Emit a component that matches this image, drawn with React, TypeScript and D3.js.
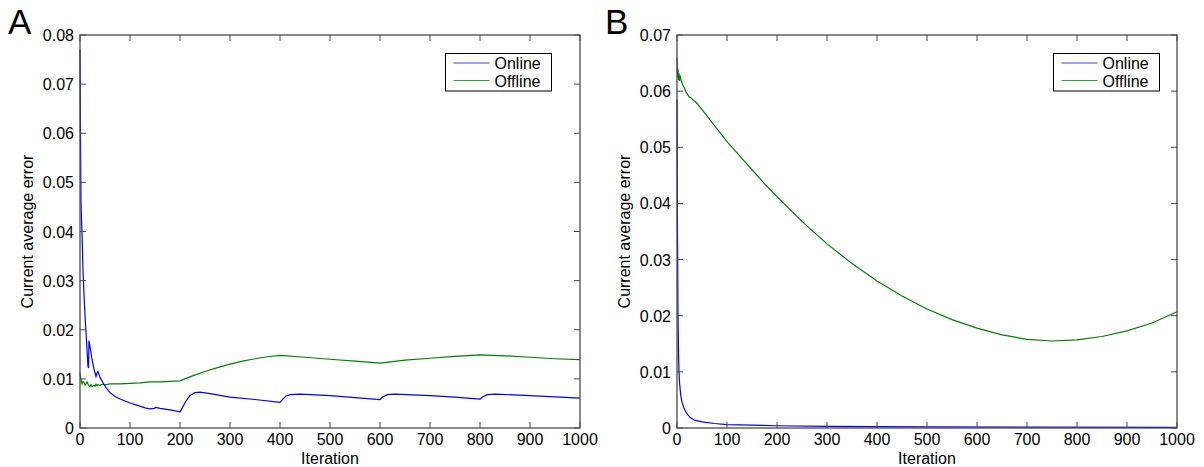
import React from "react";
import * as d3 from "d3";

// ---------- DATA ----------
const xTicks = [0, 100, 200, 300, 400, 500, 600, 700, 800, 900, 1000];
const yTicksA = [0, 0.01, 0.02, 0.03, 0.04, 0.05, 0.06, 0.07, 0.08];
const yTicksB = [0, 0.01, 0.02, 0.03, 0.04, 0.05, 0.06, 0.07];
const seriesNames = ["Online", "Offline"];

const onlineA: [number, number][] = [
  [0, 0.077], [1, 0.06], [2, 0.046], [3, 0.0425], [4, 0.04], [6, 0.032], [8, 0.027],
  [10, 0.023], [12, 0.0195], [14, 0.016], [16, 0.0125], [17, 0.0122], [18, 0.0178],
  [20, 0.0165], [24, 0.014], [28, 0.012], [32, 0.0105], [34, 0.0112], [36, 0.0115],
  [40, 0.0103], [46, 0.0092], [52, 0.0082], [60, 0.0072], [70, 0.0064], [80, 0.0059],
  [90, 0.0055], [100, 0.0051], [115, 0.0046], [130, 0.0041], [140, 0.0039],
  [148, 0.004], [152, 0.0042], [160, 0.004], [180, 0.0037], [200, 0.0033],
  [205, 0.0042], [212, 0.0055], [220, 0.0066], [230, 0.0072], [240, 0.0073],
  [260, 0.007], [300, 0.0063], [350, 0.0058], [400, 0.0052], [405, 0.0058],
  [412, 0.0065], [420, 0.0068], [440, 0.0069], [460, 0.0068], [500, 0.0066],
  [550, 0.0062], [600, 0.0058], [605, 0.0063], [615, 0.0068], [630, 0.0069],
  [700, 0.0066], [750, 0.0063], [800, 0.0059], [805, 0.0063], [815, 0.0068],
  [830, 0.0069], [900, 0.0066], [1000, 0.0061],
];

const offlineA: [number, number][] = [
  [0, 0.0112], [2, 0.0098], [4, 0.009], [6, 0.0095], [8, 0.0093], [10, 0.0087],
  [12, 0.009], [14, 0.0094], [16, 0.0089], [18, 0.0086], [20, 0.0085], [22, 0.0088],
  [24, 0.0084], [26, 0.0086], [28, 0.0087], [30, 0.0085], [32, 0.0089], [34, 0.0086],
  [36, 0.0088], [40, 0.0087], [44, 0.0089], [50, 0.0088], [60, 0.009], [80, 0.009],
  [100, 0.0091], [120, 0.0092], [140, 0.0094], [160, 0.0094], [180, 0.0095],
  [200, 0.0096], [225, 0.0106], [250, 0.0115], [275, 0.0123], [300, 0.013],
  [325, 0.0136], [350, 0.0141], [375, 0.0145], [400, 0.0148], [450, 0.0144],
  [500, 0.014], [550, 0.0136], [600, 0.0132], [650, 0.0138], [700, 0.0142],
  [750, 0.0146], [800, 0.0149], [850, 0.0147], [900, 0.0144], [950, 0.0141],
  [1000, 0.0139],
];

const onlineB: [number, number][] = [
  [0, 0.0585], [1, 0.035], [2, 0.02], [3, 0.0135], [4, 0.01], [5, 0.0082],
  [6, 0.0072], [7, 0.0063], [8, 0.0056], [10, 0.0046], [14, 0.0035], [20, 0.0025],
  [27, 0.0018], [35, 0.0014], [50, 0.0011], [75, 0.0008], [100, 0.0006],
  [150, 0.0005], [200, 0.0004], [300, 0.0003], [500, 0.0002], [700, 0.00015],
  [1000, 0.0001],
];

const offlineB: [number, number][] = [
  [0, 0.066], [1, 0.0625], [2, 0.064], [3, 0.062], [4, 0.0632], [5, 0.0618],
  [6, 0.0628], [8, 0.062], [10, 0.0615], [12, 0.061], [15, 0.0605], [18, 0.0598],
  [20, 0.0596], [24, 0.059], [28, 0.0588], [32, 0.0584], [36, 0.0582], [40, 0.0578],
  [50, 0.0567], [60, 0.0556], [80, 0.0533], [100, 0.051], [125, 0.0485], [150, 0.046],
  [175, 0.0435], [200, 0.0412], [250, 0.0368], [300, 0.0328], [350, 0.0293],
  [400, 0.0262], [450, 0.0235], [500, 0.0212], [550, 0.0193], [600, 0.0178],
  [650, 0.0166], [700, 0.0158], [750, 0.0155], [800, 0.0157], [850, 0.0163],
  [900, 0.0173], [950, 0.0187], [1000, 0.0207],
];

const colors = ["#0000ff", "#008000"];
const legendColors = ["#4040ff", "#30a030"];
const FONT = "'Liberation Sans', Arial, Helvetica, sans-serif";

type PanelProps = {
  label: string;
  left: number;
  right: number;
  top: number;
  bottom: number;
  yMax: number;
  yTicks: number[];
  online: [number, number][];
  offline: [number, number][];
  legendX: number;
};

function Panel(p: PanelProps) {
  const x = d3.scaleLinear().domain([0, 1000]).range([p.left, p.right]);
  const y = d3.scaleLinear().domain([0, p.yMax]).range([p.bottom, p.top]);
  const line = d3
    .line<[number, number]>()
    .x((d) => x(d[0]))
    .y((d) => y(d[1]));
  const tl = 6;
  const axisColor = "#4a4a4a";
  const fmt = (v: number) => (v === 0 ? "0" : d3.format(".2f")(v));
  const midY = (p.top + p.bottom) / 2;
  const midX = (p.left + p.right) / 2;
  const ly = p.top + 18;
  return (
    <g>
      <text x={p.left - 72} y={p.top - 1} fontFamily={FONT} fontSize={35} fill="#000">
        {p.label}
      </text>
      {/* data */}
      <g fill="none" strokeWidth={1.2}>
        <path d={line(p.offline) || ""} stroke={colors[1]} />
        <path d={line(p.online) || ""} stroke={colors[0]} />
      </g>
      {/* box */}
      <rect
        x={p.left}
        y={p.top}
        width={p.right - p.left}
        height={p.bottom - p.top}
        fill="none"
        stroke={axisColor}
        strokeWidth={1.3}
      />
      {/* x ticks */}
      {xTicks.map((t) => (
        <g key={"x" + t}>
          <line x1={x(t)} x2={x(t)} y1={p.bottom} y2={p.bottom - tl} stroke={axisColor} />
          <line x1={x(t)} x2={x(t)} y1={p.top} y2={p.top + tl} stroke={axisColor} />
          <text
            x={x(t)}
            y={p.bottom + 17}
            textAnchor="middle"
            fontFamily={FONT}
            fontSize={16}
            fill="#000"
          >
            {t}
          </text>
        </g>
      ))}
      {p.yTicks.map((t) => (
        <g key={"y" + t}>
          <line x1={p.left} x2={p.left + tl} y1={y(t)} y2={y(t)} stroke={axisColor} />
          <line x1={p.right} x2={p.right - tl} y1={y(t)} y2={y(t)} stroke={axisColor} />
          <text
            x={p.left - 6}
            y={y(t) + 6}
            textAnchor="end"
            fontFamily={FONT}
            fontSize={16}
            fill="#000"
          >
            {fmt(t)}
          </text>
        </g>
      ))}
      <text
        x={midX}
        y={p.bottom + 36}
        textAnchor="middle"
        fontFamily={FONT}
        fontSize={16}
        fill="#000"
      >
        Iteration
      </text>
      <text
        transform={`translate(${p.left - 47},${midY}) rotate(-90)`}
        textAnchor="middle"
        fontFamily={FONT}
        fontSize={16}
        fill="#000"
      >
        Current average error
      </text>
      {/* legend */}
      <rect
        x={p.legendX}
        y={p.top + 18.5}
        width={106}
        height={37.5}
        fill="#fff"
        stroke="#000"
        strokeWidth={1}
      />
      {seriesNames.map((n, i) => (
        <g key={n}>
          <line
            x1={p.legendX + 8}
            x2={p.legendX + 44}
            y1={ly + 10 + i * 17.5}
            y2={ly + 10 + i * 17.5}
            stroke={legendColors[i]}
            strokeWidth={1.2}
          />
          <text
            x={p.legendX + 49}
            y={ly + 16 + i * 17.5}
            fontFamily={FONT}
            fontSize={16}
            fill="#000"
          >
            {n}
          </text>
        </g>
      ))}
    </g>
  );
}

export default function App() {
  return (
    <div style={{ position: "absolute", left: 0, top: 0 }}>
      <svg width={1204} height={467} style={{ display: "block", background: "#fff" }}>
        <rect x={0} y={0} width={1204} height={467} fill="#fff" />
        <Panel
          label="A"
          left={80}
          right={580}
          top={35}
          bottom={428}
          yMax={0.08}
          yTicks={yTicksA}
          online={onlineA}
          offline={offlineA}
          legendX={445.5}
        />
        <Panel
          label="B"
          left={677}
          right={1177}
          top={35}
          bottom={428}
          yMax={0.07}
          yTicks={yTicksB}
          online={onlineB}
          offline={offlineB}
          legendX={1053.5}
        />
      </svg>
    </div>
  );
}
